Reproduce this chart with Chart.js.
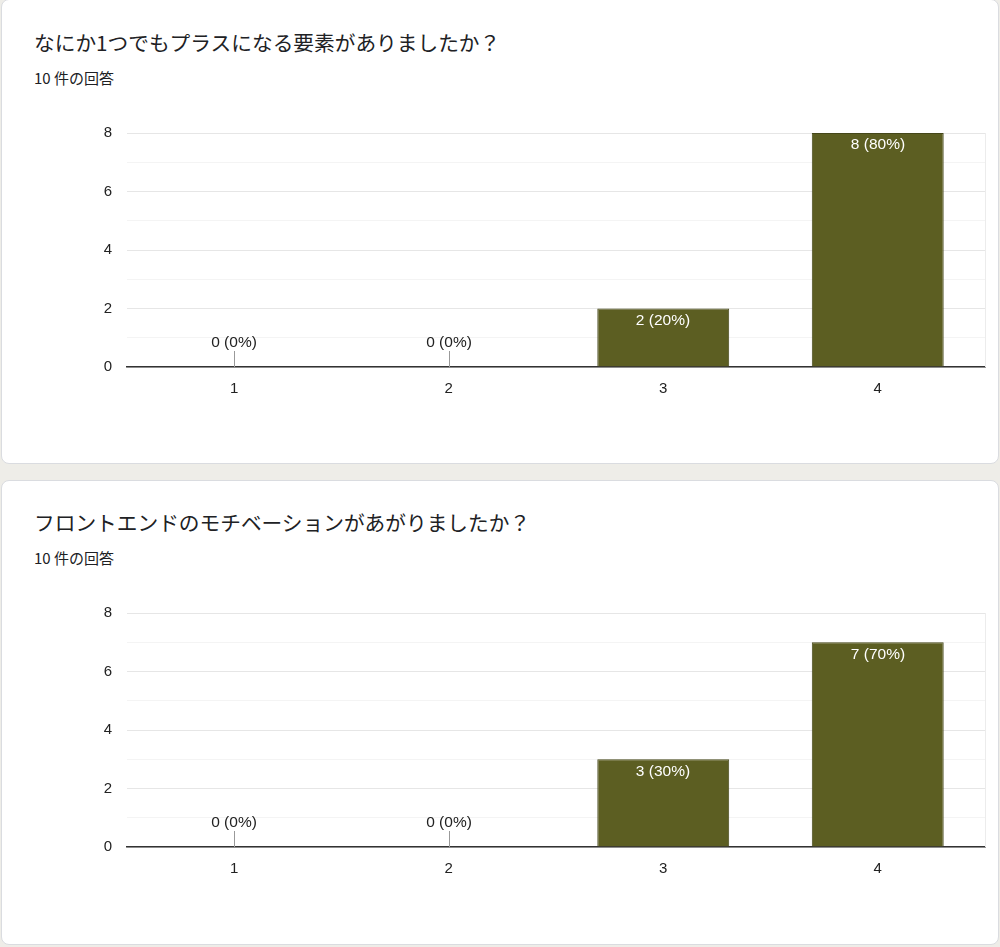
<!DOCTYPE html>
<html lang="ja">
<head>
<meta charset="utf-8">
<script src="https://cdn.jsdelivr.net/npm/chart.js@4.4.1/dist/chart.umd.min.js"></script>
<style>
    html, body { margin: 0; padding: 0; background: #eeede8; }
    body { width: 1000px; height: 947px; position: relative; overflow: hidden; }
    .card {
        position: absolute; left: 1px; width: 996px;
        background: #fff; border: 1px solid #dadce0; border-radius: 8px;
    }
    .title {
        position: absolute; left: 32px; top: 26px; margin: 0;
        font: 20.7px "Noto Sans CJK JP", sans-serif; color: #202124; line-height: 30px;
    }
    .sub {
        position: absolute; left: 32px; top: 66px; margin: 0;
        font: 15px "Noto Sans CJK JP", sans-serif; color: #202124; line-height: 22px;
    }
    .chart-box { position: absolute; left: 0; top: 108px; width: 996px; height: 298px; }
</style>
</head>
<body>
<div class="card" id="card1" style="top:-1px;height:463px;">
    <p class="title" style="top:27px;">なにか1つでもプラスになる要素がありましたか？</p>
    <p class="sub" style="top:67px;">10 件の回答</p>
    <div class="chart-box" style="top:109px;"><canvas id="chart1"></canvas></div>
</div>
<div class="card" id="card2" style="top:480px;height:463px;">
    <p class="title">フロントエンドのモチベーションがあがりましたか？</p>
    <p class="sub">10 件の回答</p>
    <div class="chart-box"><canvas id="chart2"></canvas></div>
</div>
<script>
const categories = ['1', '2', '3', '4'];
const q1Counts = [0, 0, 2, 8];
const q2Counts = [0, 0, 3, 7];
const totalResponses = 10;
const yMax = 8;

const barColor = '#5c5e22';
const fontFamily = '"Liberation Sans", Arial, sans-serif';
const labelFont = '15.5px ' + fontFamily;

// labels above/inside bars, little stub for zero bars, right border of plot
const barLabels = {
    id: 'barLabels',
    afterDatasetsDraw(chart) {
        const { ctx, chartArea } = chart;
        const meta = chart.getDatasetMeta(0);
        const values = chart.data.datasets[0].data;
        ctx.save();
        ctx.strokeStyle = '#ececec';
        ctx.lineWidth = 1;
        ctx.beginPath();
        ctx.moveTo(chartArea.right + 0.5, chartArea.top);
        ctx.lineTo(chartArea.right + 0.5, chartArea.bottom);
        ctx.stroke();

        ctx.font = labelFont;
        ctx.textAlign = 'center';
        ctx.textBaseline = 'middle';
        meta.data.forEach((bar, i) => {
            const v = values[i];
            const pct = Math.round(v / totalResponses * 100);
            const txt = `${v} (${pct}%)`;
            const x = Math.round(bar.x);
            if (v === 0) {
                ctx.strokeStyle = '#999';
                ctx.beginPath();
                ctx.moveTo(x + 0.5, bar.base - 16);
                ctx.lineTo(x + 0.5, bar.base);
                ctx.stroke();
                ctx.fillStyle = '#222';
                ctx.fillText(txt, x, bar.base - 24);
            } else {
                ctx.fillStyle = '#fff';
                ctx.fillText(txt, x, bar.y + 12);
            }
        });
        ctx.restore();
    }
};

function makeChart(id, counts) {
    return new Chart(document.getElementById(id), {
        type: 'bar',
        data: {
            labels: categories,
            datasets: [{
                data: counts,
                backgroundColor: barColor,
                borderColor: '#45471a',
                borderWidth: 1,
                categoryPercentage: 1,
                barPercentage: 0.615
            }]
        },
        options: {
            responsive: true,
            maintainAspectRatio: false,
            animation: false,
            layout: { padding: { top: 13, right: 13, left: 0, bottom: 0 } },
            plugins: { legend: { display: false }, tooltip: { enabled: false } },
            scales: {
                x: {
                    grid: { display: false, drawTicks: false },
                    border: { display: true, color: '#333', width: 1.5 },
                    ticks: { color: '#222', font: { family: fontFamily, size: 15 }, padding: 13 },
                    afterFit: s => { s.height = 40; }
                },
                y: {
                    min: 0, max: yMax,
                    grid: {
                        drawTicks: false,
                        color: c => (c.tick.value % 2 ? '#f4f4f4' : '#e6e6e6')
                    },
                    border: { display: false },
                    ticks: {
                        stepSize: 1,
                        padding: 15,
                        color: '#222',
                        font: { family: fontFamily, size: 15 },
                        callback: v => (v % 2 ? '' : v)
                    },
                    afterFit: s => { s.width = 125; }
                }
            }
        },
        plugins: [barLabels]
    });
}

makeChart('chart1', q1Counts);
makeChart('chart2', q2Counts);
</script>
</body>
</html>
